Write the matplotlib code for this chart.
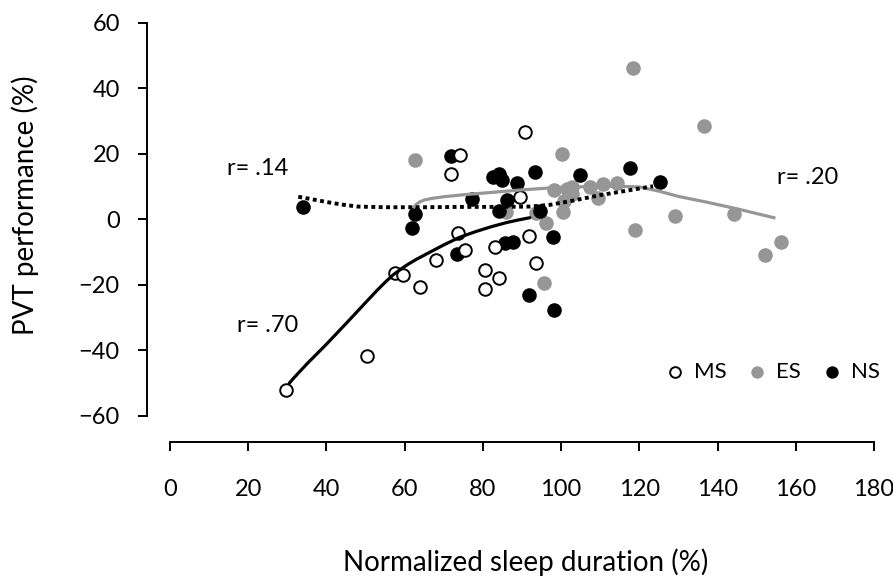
import matplotlib.pyplot as plt
import numpy as np

plt.rcParams['font.family'] = ['Lato', 'DejaVu Sans']

# MS - open circles
ms_x = [29.7, 50.3, 57.5, 59.7, 63.8, 68.1, 71.8, 74.1, 73.6, 75.4, 80.5, 80.5,
        83.0, 84.0, 89.5, 90.8, 91.9, 93.5]
ms_y = [-52.0, -41.8, -16.3, -17.1, -20.7, -12.3, 13.7, 19.5, -4.3, -9.2, -15.6, -21.4,
        -8.3, -17.9, 6.8, 26.5, -5.2, -13.3]

# ES - grey
es_x = [62.6, 86.0, 93.6, 95.5, 96.2, 98.2, 100.2, 100.6, 100.8, 101.4, 102.9, 102.7,
        107.4, 109.5, 110.8, 114.2, 118.5, 118.8, 129.1, 136.6, 144.3, 152.1, 156.2]
es_y = [18.0, 2.3, 1.9, -19.3, -1.0, 8.9, 20.0, 2.2, 5.5, 9.4, 9.9, 7.8,
        9.8, 6.6, 10.9, 11.2, 46.3, -3.2, 1.0, 28.5, 1.7, -10.8, -6.9]

# NS - black
ns_x = [34.1, 61.8, 62.7, 71.8, 73.4, 77.3, 82.5, 84.0, 84.8, 84.2, 85.7, 86.1,
        87.8, 88.7, 91.9, 93.3, 94.6, 97.8, 98.2, 104.8, 117.6, 125.3]
ns_y = [3.8, -2.6, 1.5, 19.3, -10.6, 6.3, 13.0, 13.9, 11.9, 2.6, -7.3, 5.9,
        -7.0, 11.2, -23.2, 14.4, 2.7, -5.3, -27.8, 13.4, 15.7, 11.4]

# trend curves
ms_fit_x = [30.5, 31.5, 35, 40, 45, 50, 53, 55, 57, 59, 61, 63, 66, 70, 74, 78, 82, 86, 89, 92]
ms_fit_y = [-50.0, -48.6, -44.1, -38.1, -31.8, -25.4, -21.6, -19.2, -17.0, -15.2, -13.6,
            -12.2, -10.3, -7.8, -5.5, -3.8, -2.3, -1.0, -0.2, 0.5]
es_fit_x = [62.4, 63.0, 63.8, 65, 67, 70, 75, 80, 90, 100, 110, 117, 120, 125, 130, 137, 145, 154.4]
es_fit_y = [3.8, 4.6, 5.3, 5.9, 6.4, 6.9, 7.5, 8.0, 9.0, 9.8, 10.1, 10.0, 9.9, 8.6, 7.0, 5.3, 3.2, 0.5]
ns_fit_x = [32.8, 36, 40, 44, 48, 55, 65, 75, 85, 92, 97, 103, 110, 117, 123.5]
ns_fit_y = [6.9, 6.2, 5.3, 4.5, 3.9, 3.7, 3.7, 3.8, 3.8, 3.9, 4.4, 5.7, 7.4, 8.8, 10.1]

grey = '#969696'

fig = plt.figure(figsize=(8.93, 5.77), dpi=100)
ax = fig.add_axes([170 / 893, 1 - 416 / 577, 704 / 893, 393.3 / 577])

ax.scatter(es_x, es_y, s=110, color=grey, linewidths=0, label='ES', zorder=3, clip_on=False)
ax.scatter(ns_x, ns_y, s=110, color='black', linewidths=0, label='NS', zorder=4, clip_on=False)
ax.scatter(ms_x, ms_y, s=82, facecolor='white', edgecolor='black', linewidths=1.4,
           label='MS', zorder=5, clip_on=False)

ax.plot(ms_fit_x, ms_fit_y, color='black', lw=2.3, zorder=6, solid_capstyle='round',
        solid_joinstyle='round')
ax.plot(es_fit_x, es_fit_y, color=grey, lw=2.3, zorder=6, solid_joinstyle='round')
ax.plot(ns_fit_x, ns_fit_y, color='black', lw=2.8, dashes=(1, 0.9),
        dash_capstyle='butt', zorder=6)

ax.text(14.6, 15.6, 'r= .14', fontsize=17, va='center', ha='left')
ax.text(17.1, -32.4, 'r= .70', fontsize=17, va='center', ha='left')
ax.text(155.2, 12.8, 'r= .20', fontsize=17, va='center', ha='left')

ax.set_xlim(0, 180)
ax.set_ylim(-60, 60)
ax.set_xticks(range(0, 181, 20))
ax.set_yticks(range(-60, 61, 20))
for side in ['top', 'right']:
    ax.spines[side].set_visible(False)
ax.spines['left'].set_position(('outward', 16.6))
ax.spines['bottom'].set_position(('outward', 18.7))
for side in ['left', 'bottom']:
    ax.spines[side].set_linewidth(1.4)
ax.tick_params(direction='out', length=6.5, width=1.4, labelsize=17)
ax.tick_params(axis='x', pad=20)
ax.tick_params(axis='y', pad=13)

handles, labels = ax.get_legend_handles_labels()
order = [2, 0, 1]
ax.legend([handles[i] for i in order], [labels[i] for i in order], ncol=3,
          frameon=False, fontsize=16, markerscale=0.85, handlelength=0.6,
          handletextpad=0.55, columnspacing=1.1, loc='center',
          bbox_to_anchor=(774 / 893, 1 - 372 / 577), bbox_transform=fig.transFigure)

fig.text(526 / 893, 1 - 562 / 577, 'Normalized sleep duration (%)', fontsize=20,
         ha='center', va='center')
fig.text(25 / 893, 1 - 205 / 577, 'PVT performance (%)', fontsize=20,
         ha='center', va='center', rotation=90)

fig.savefig('out.png', dpi=100)
